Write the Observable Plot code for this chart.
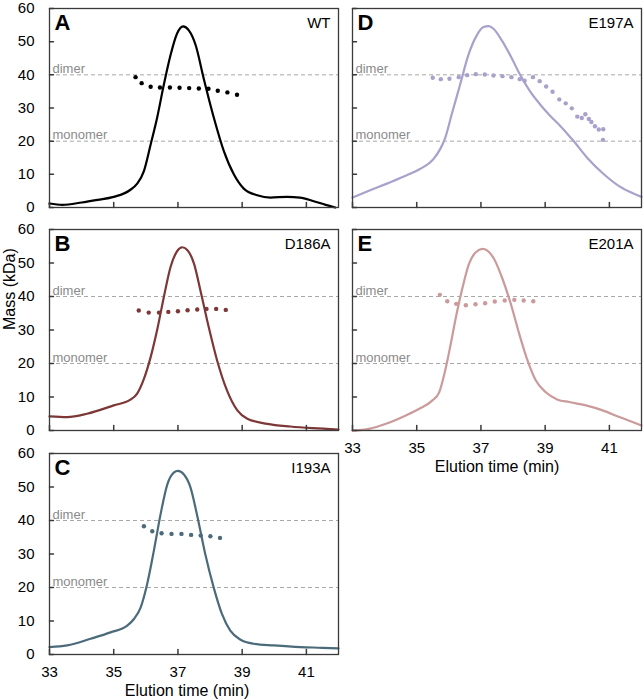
<!DOCTYPE html>
<html><head><meta charset="utf-8">
<script src="https://cdn.jsdelivr.net/npm/d3@7"></script>
<script src="https://cdn.jsdelivr.net/npm/@observablehq/plot@0.6"></script>
<style>
body{margin:0;background:#fff;}
#wrap{position:relative;width:643px;height:700px;font-family:"Liberation Sans",Arial,sans-serif;}
#wrap > div{position:absolute;}
#wrap svg{overflow:visible;}
</style></head><body><div id="wrap"></div>
<script>
// ---- shared axis data ----
const xTicks = [33, 35, 37, 39, 41];
const yTicks = [0, 10, 20, 30, 40, 50, 60];
const refMass = [40, 20];
const refLabels = ["dimer", "monomer"];
const xLabel = "Elution time (min)";
const yLabel = "Mass (kDa)";

// ---- A: WT ----
const aCurveT = [33, 33.4, 34.0, 34.5, 35.0, 35.5, 35.73, 35.94, 36.15, 36.35, 36.56, 36.77, 36.97, 37.16, 37.34, 37.55, 37.8, 38.12, 38.43, 38.74, 39.05, 39.47, 39.88, 40.4, 40.8, 41.23, 41.6, 41.9];
const aCurveV = [1.2, 0.8, 1.5, 2.3, 3.2, 5.2, 7.2, 11, 19, 27, 37, 46, 52.4, 54.6, 53.4, 49, 39, 27, 17, 10, 5.7, 3.7, 3.0, 3.2, 3.0, 1.9, 0.8, 0];
const aPtT = [35.68, 35.87, 36.15, 36.44, 36.75, 37.05, 37.35, 37.65, 37.95, 38.24, 38.54, 38.84];
const aPtV = [39.3, 37.5, 36.4, 36.2, 36.2, 36.1, 36.0, 35.9, 35.8, 35.2, 34.7, 34.0];

// ---- B: D186A ----
const bCurveT = [33, 33.55, 34.17, 35.0, 35.52, 35.73, 35.94, 36.15, 36.35, 36.56, 36.77, 36.97, 37.13, 37.29, 37.5, 37.7, 37.96, 38.22, 38.53, 38.85, 39.16, 39.78, 40.5, 41.2, 42];
const bCurveV = [4.2, 4.0, 5.0, 7.5, 9.2, 11, 15.4, 21.9, 29.9, 39.8, 48.8, 53.5, 54.7, 53.9, 49.8, 41.8, 30.8, 20.9, 11.9, 6.0, 3.5, 2.0, 1.2, 0.7, 0.3];
const bPtT = [35.78, 36.09, 36.41, 36.70, 37.0, 37.3, 37.6, 37.89, 38.19, 38.49];
const bPtV = [35.8, 35.2, 35.2, 35.4, 35.6, 35.9, 36.1, 36.3, 36.3, 36.0];

// ---- C: I193A ----
const cCurveT = [33, 33.55, 34.28, 34.9, 35.42, 35.63, 35.84, 36.04, 36.25, 36.46, 36.67, 36.87, 37.0, 37.18, 37.39, 37.59, 37.85, 38.11, 38.37, 38.63, 38.95, 39.36, 39.99, 40.82, 41.5, 42];
const cCurveV = [2.2, 2.7, 4.7, 6.6, 8.6, 10.6, 14.1, 21.0, 31, 41.9, 50.8, 54.3, 54.8, 53.8, 49.9, 41.9, 30, 20.1, 12.1, 7.1, 4.4, 3.2, 2.7, 2.2, 2.0, 1.8];
const cPtT = [35.94, 36.2, 36.49, 36.8, 37.11, 37.41, 37.71, 38.01, 38.31];
const cPtV = [38.3, 36.8, 36.2, 36.0, 36.0, 35.7, 35.5, 35.3, 34.8];

// ---- D: E197A ----
const dCurveT = [33, 33.55, 34.07, 34.69, 35.1, 35.52, 35.73, 35.89, 36.09, 36.35, 36.61, 36.87, 37.08, 37.24, 37.39, 37.65, 37.96, 38.22, 38.53, 38.85, 39.16, 39.47, 39.88, 40.3, 40.82, 41.34, 41.75, 42];
const dCurveV = [3.0, 5.2, 7.2, 9.7, 11.6, 14.6, 17.6, 21.1, 28.1, 37, 46, 51.9, 54.4, 54.7, 53.9, 50.4, 45, 40, 35, 31, 27.6, 24.6, 20.1, 15.1, 10.1, 6.2, 4.2, 3.2];
const dPtT = [35.50, 35.75, 36.02, 36.31, 36.57, 36.84, 37.12, 37.39, 37.67, 37.95, 38.21, 38.36, 38.62, 38.83, 39.03, 39.23, 39.44, 39.64, 39.83, 40.0, 40.14, 40.25, 40.36, 40.44, 40.55, 40.67, 40.81, 40.80];
const dPtV = [39.1, 38.7, 38.8, 39.3, 39.9, 40.2, 40.1, 39.8, 39.6, 39.3, 38.7, 38.2, 39.3, 38.1, 36.5, 34.9, 32.6, 31.4, 29.9, 27.4, 27.0, 28.1, 26.7, 25.8, 24.5, 23.5, 23.6, 20.4];

// ---- E: E201A ----
const eCurveT = [33, 33.52, 34.04, 34.66, 35.08, 35.49, 35.7, 35.91, 36.06, 36.22, 36.43, 36.63, 36.84, 37.05, 37.2, 37.41, 37.67, 37.93, 38.19, 38.45, 38.71, 39.02, 39.39, 39.75, 40.27, 40.79, 41.31, 42];
const eCurveV = [0, 0.5, 2.0, 4.5, 6.5, 9.0, 11.4, 18.9, 25.9, 33.8, 42.8, 49.8, 53.2, 54.2, 53.7, 51.2, 45.3, 37.8, 28.9, 20.9, 14.9, 11.4, 9.2, 8.5, 7.5, 6.0, 4.0, 1.5];
const ePtT = [35.72, 35.95, 36.23, 36.53, 36.83, 37.13, 37.43, 37.74, 38.04, 38.33, 38.63];
const ePtV = [40.5, 38.6, 37.8, 37.4, 37.7, 38.0, 38.5, 38.8, 39.0, 38.8, 38.6];

const tickShape = {draw(ctx, l) { ctx.moveTo(0, 0); ctx.lineTo(0, -l); }};
const FONT = '"Liberation Sans", Arial, sans-serif';

function makePanel(cfg) {
  const {letter, name, color, curveT, curveV, ptT, ptV, box, showX, showY, yTitle, xTitleDx = 0} = cfg;
  const W = 289, H = box.H;
  const curve = curveT.map((t, i) => ({t, v: curveV[i]}));
  const pts = ptT.map((t, i) => ({t, v: ptV[i]}));
  const refs = refMass.map((m, i) => ({m, label: refLabels[i]}));
  const marks = [
    Plot.ruleY(refs, {y: "m", stroke: "#a8a8a8", strokeDasharray: "4,3", strokeWidth: 1}),
    Plot.text(refs, {y: "m", text: "label", frameAnchor: "left", textAnchor: "start", lineAnchor: "bottom", dx: 3, dy: -2, fill: "#8a8a8a", fontSize: 13}),
    Plot.line(curve, {x: "t", y: "v", stroke: color, strokeWidth: 2.2, curve: "monotone-x"}),
    Plot.dot(pts, {x: "t", y: "v", fill: color, r: 2.2}),
    Plot.frame({stroke: "#3a3a3a", strokeWidth: 1.3}),
    Plot.vector(xTicks, {x: d => d, frameAnchor: "bottom", length: 5, rotate: 0, anchor: "start", shape: tickShape, stroke: "#3a3a3a"}),
    Plot.vector(yTicks, {y: d => d, frameAnchor: "left", length: 4, rotate: 90, anchor: "start", shape: tickShape, stroke: "#3a3a3a"}),
    Plot.text([letter], {text: d => d, frameAnchor: "top-left", dx: 5, dy: 6, lineAnchor: "top", fontSize: 22, fontWeight: "bold", fill: "#000"}),
    Plot.text([name], {text: d => d, frameAnchor: "top-right", dx: -8, dy: 9, lineAnchor: "top", textAnchor: "end", fontSize: 15, fill: "#000"})
  ];
  if (showY) marks.push(Plot.axisY(yTicks, {tickSize: 0, tickPadding: 15, fontSize: 15, label: null}));
  if (showX) {
    marks.push(Plot.axisX(xTicks, {tickSize: 0, tickPadding: 12, fontSize: 15, label: null}));
    marks.push(Plot.text([xLabel], {text: d => d, frameAnchor: "bottom", dy: 30, dx: xTitleDx, lineAnchor: "top", fontSize: 16, fill: "#000"}));
  }
  if (yTitle) marks.push(Plot.text([yLabel], {text: d => d, frameAnchor: "left", dx: -40, rotate: -90, fontSize: 16, fill: "#000"}));
  const plot = Plot.plot({
    width: box.mL + W + box.mR,
    height: box.mT + H + box.mB,
    marginLeft: box.mL, marginRight: box.mR, marginTop: box.mT, marginBottom: box.mB,
    x: {domain: [33, 42], ...(showX ? {} : {axis: null})},
    y: {domain: [0, 60], ...(showY ? {} : {axis: null})},
    style: {fontFamily: FONT, fontSize: "15px", background: "transparent", color: "#000", overflow: "visible"},
    marks
  });
  const div = document.createElement("div");
  div.style.left = box.left + "px";
  div.style.top = box.top + "px";
  div.appendChild(plot);
  document.getElementById("wrap").appendChild(div);
}

makePanel({letter: "A", name: "WT", color: "#000000", curveT: aCurveT, curveV: aCurveV, ptT: aPtT, ptV: aPtV,
  box: {left: 0, top: 0, mL: 49, mR: 5, mT: 8, mB: 4, H: 199}, showX: false, showY: true});
makePanel({letter: "B", name: "D186A", color: "#7d3737", curveT: bCurveT, curveV: bCurveV, ptT: bPtT, ptV: bPtV,
  box: {left: 0, top: 224, mL: 49, mR: 5, mT: 5, mB: 4, H: 201}, showX: false, showY: true, yTitle: true});
makePanel({letter: "C", name: "I193A", color: "#4b6b7b", curveT: cCurveT, curveV: cCurveV, ptT: cPtT, ptV: cPtV,
  box: {left: 0, top: 445, mL: 49, mR: 5, mT: 8, mB: 46, H: 201}, showX: true, showY: true, xTitleDx: -7});
makePanel({letter: "D", name: "E197A", color: "#a9a1cb", curveT: dCurveT, curveV: dCurveV, ptT: dPtT, ptV: dPtV,
  box: {left: 347, top: 0, mL: 5, mR: 2, mT: 8, mB: 4, H: 199}, showX: false, showY: false});
makePanel({letter: "E", name: "E201A", color: "#cb9a9a", curveT: eCurveT, curveV: eCurveV, ptT: ePtT, ptV: ePtV,
  box: {left: 347, top: 224, mL: 5, mR: 2, mT: 5, mB: 46, H: 201}, showX: true, showY: false});
</script></body></html>
